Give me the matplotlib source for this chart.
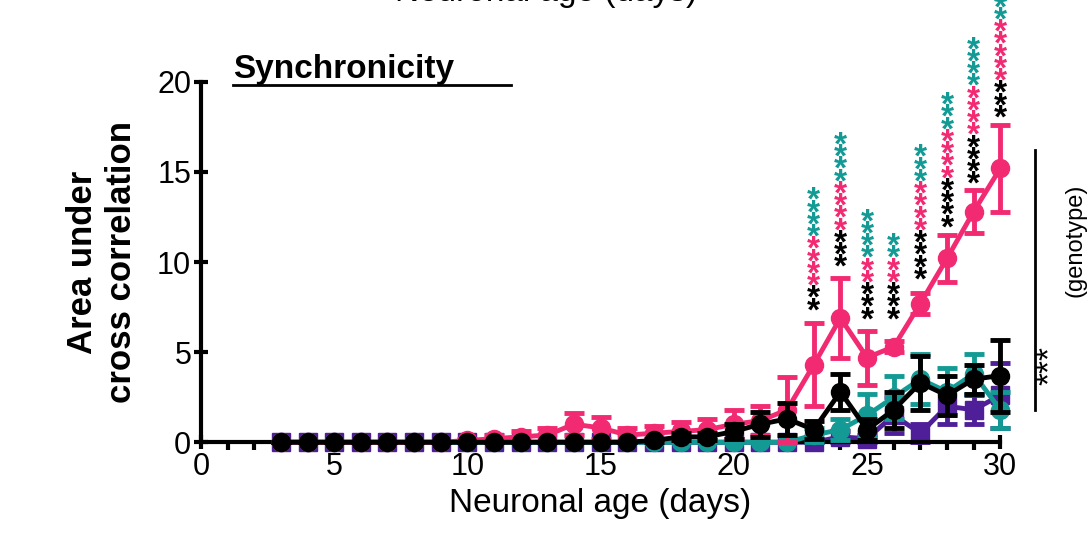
import matplotlib
matplotlib.use("Agg")
import matplotlib.pyplot as plt
import numpy as np

plt.rcParams["font.family"] = "Liberation Sans"

days = list(range(3, 31))
pink = [0,0,0,0,0,0,0,0.1,0.2,0.3,0.4,1.0,0.8,0.4,0.5,0.6,0.7,1.0,1.2,1.8,4.3,6.9,4.7,5.3,7.7,10.2,12.8,15.2]
pink_err = [0,0,0,0,0,0,0,0.1,0.2,0.3,0.4,0.6,0.6,0.4,0.4,0.5,0.6,0.8,0.8,1.8,2.3,2.2,1.5,0.3,0.6,1.3,1.2,2.4]
black = [0,0,0,0,0,0,0,0,0,0,0,0,0,0,0.1,0.3,0.3,0.6,1.0,1.3,0.7,2.8,0.7,1.8,3.3,2.6,3.5,3.7]
black_err = [0,0,0,0,0,0,0,0,0,0,0,0,0,0,0.1,0.2,0.2,0.4,0.7,0.9,0.5,1.0,0.6,1.0,1.5,1.1,0.8,2.0]
teal = [0,0,0,0,0,0,0,0,0,0,0,0,0,0,0,0,0,0,0,0,0.4,0.7,1.5,2.5,3.5,2.8,3.8,1.8]
teal_err = [0,0,0,0,0,0,0,0,0,0,0,0,0,0,0,0,0,0,0,0,0.4,0.6,1.2,1.2,1.4,1.3,1.1,1.0]
purple = [0,0,0,0,0,0,0,0,0,0,0,0,0,0,0,0,0,0,0,0,0,0.3,0.2,1.5,0.5,2.0,1.8,2.6]
purple_err = [0,0,0,0,0,0,0,0,0,0,0,0,0,0,0,0,0,0,0,0,0,0.3,0.2,1.0,0.5,1.0,0.8,1.8]

star_days = [23, 24, 25, 26, 27, 28, 29, 30]
star_base = [7.7, 10.1, 7.2, 7.2, 9.4, 12.3, 14.7, 18.4]
star_black = [2, 3, 3, 3, 4, 4, 4, 3]
star_pink = [4, 4, 2, 2, 4, 4, 4, 5]
star_teal = [4, 4, 4, 2, 3, 3, 4, 3]

PINK = "#f22a72"; TEAL = "#139a94"; PURPLE = "#4f1f9a"; BLACK = "#000000"

fig = plt.figure(figsize=(10.92, 5.46), dpi=100)
ax = fig.add_axes([0.184, 0.19, 0.732, 0.66])
for vals, err, c, m, z in [(purple, purple_err, PURPLE, "s", 2), (teal, teal_err, TEAL, "o", 3),
                           (pink, pink_err, PINK, "o", 4), (black, black_err, BLACK, "o", 5)]:
    ax.errorbar(days, vals, yerr=err, color=c, marker=m, markersize=13, lw=3.5,
                elinewidth=3.5, capsize=7, capthick=3.5, zorder=z, clip_on=False)

step = 0.68
for d, b, nb, np_, nt in zip(star_days, star_base, star_black, star_pink, star_teal):
    y = b
    for n, c in [(nb, BLACK), (np_, PINK), (nt, TEAL)]:
        for i in range(n):
            ax.text(d, y - 0.45, "*", color=c, fontsize=24, fontweight="bold",
                    ha="center", va="center", clip_on=False)
            y += step

ax.set_xlim(0, 30)
ax.set_ylim(0, 20)
ax.set_xticks([0, 5, 10, 15, 20, 25, 30])
ax.set_xticks(range(0, 31), minor=True)
ax.set_yticks([0, 5, 10, 15, 20])
for s in ["top", "right"]:
    ax.spines[s].set_visible(False)
for s in ["left", "bottom"]:
    ax.spines[s].set_linewidth(3)
ax.tick_params(which="major", width=3, length=10, labelsize=22, direction="inout", pad=2)
ax.tick_params(which="minor", width=3, length=6, direction="out")
ax.set_xlabel("Neuronal age (days)", fontsize=24, labelpad=4)
ax.set_ylabel("Area under\ncross correlation", fontsize=25, fontweight="bold", labelpad=14)

fig.text(0.213, 0.873, "Synchronicity", fontsize=24, fontweight="bold", ha="left", va="center")
fig.add_artist(plt.Line2D([0.213, 0.468], [0.845, 0.845], color="black", lw=2))
fig.text(0.5, 0.985, "Neuronal age (days)", fontsize=24, ha="center", va="bottom")

fig.add_artist(plt.Line2D([0.948, 0.948], [0.25, 0.725], color="black", lw=2))
fig.text(0.962, 0.33, "***", fontsize=24, rotation=90, ha="center", va="center")
fig.text(0.985, 0.56, "(genotype)", fontsize=17, rotation=90, ha="center", va="center")

fig.savefig("out.png", dpi=100)
